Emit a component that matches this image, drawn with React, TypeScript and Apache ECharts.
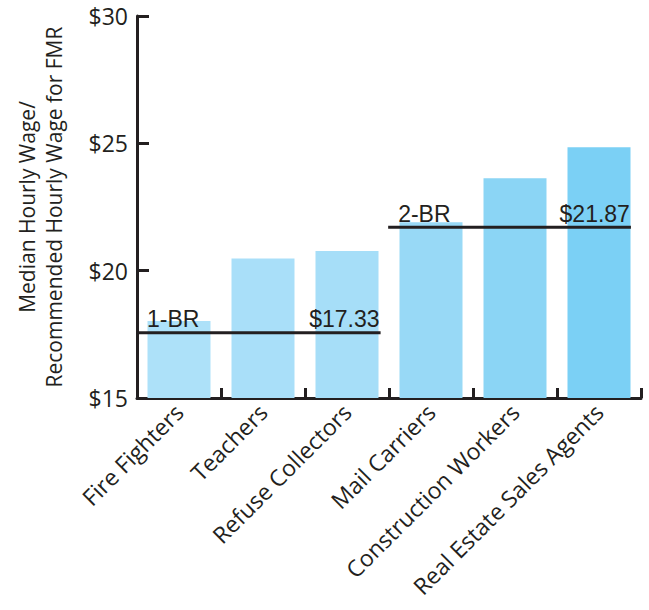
import React, { useEffect, useRef } from "react";
import * as echarts from "echarts";

const categories = [
  "Fire Fighters",
  "Teachers",
  "Refuse Collectors",
  "Mail Carriers",
  "Construction Workers",
  "Real Estate Sales Agents",
];
const wages = [18.02, 20.48, 20.77, 21.9, 23.63, 24.85];
const barColors = ["#ADE1F9", "#A9DFF9", "#A6DEF8", "#98D9F6", "#8BD5F5", "#7BD0F5"];

const yMin = 15;
const yMax = 30;
const yStep = 5;

// Reference lines: [start, end] positions along the category span, value, labels
const oneBrSpan = [0, 2.9];
const oneBrValue = 17.56;
const oneBrLabels = ["1-BR", "$17.33"];
const twoBrSpan = [2.99, 5.88];
const twoBrValue = 21.7;
const twoBrLabels = ["2-BR", "$21.87"];

const axisColor = "#231F20";
const textColor = "#231F20";

function refLine(span: number[], value: number, labels: string[]) {
  const lbl = {
    show: true,
    position: "top",
    fontFamily: "Liberation Sans, Arial, sans-serif",
    fontSize: 23,
    color: textColor,
  };
  return {
    type: "line",
    xAxisIndex: 1,
    symbol: "circle",
    symbolSize: 0,
    z: 5,
    lineStyle: { color: axisColor, width: 3 },
    data: [
      {
        value: [span[0], value],
        label: { ...lbl, align: "left", offset: [10, 3], formatter: labels[0] },
      },
      {
        value: [span[1], value],
        label: { ...lbl, align: "right", offset: [-1, 3], formatter: labels[1] },
      },
    ],
  };
}

export default function App() {
  const ref = useRef<HTMLDivElement>(null);
  useEffect(() => {
    if (!ref.current) return;
    const chart = echarts.init(ref.current, null, { renderer: "svg" });
    chart.setOption({
      animation: false,
      backgroundColor: "#ffffff",
      grid: {
        left: 137,
        right: 8,
        top: 16,
        bottom: 212,
        containLabel: false,
        outerBoundsMode: "none",
      },
      xAxis: [
        {
          type: "category",
          data: categories,
          axisLine: { show: true, lineStyle: { color: axisColor, width: 3 } },
          axisTick: {
            show: true,
            inside: true,
            length: 10,
            lineStyle: { color: axisColor, width: 3 },
          },
          axisLabel: {
            rotate: 45,
            interval: 0,
            margin: 10,
            fontFamily: "Open Sans, sans-serif",
            fontSize: 23,
            color: textColor,
          },
        },
        {
          type: "value",
          min: 0,
          max: 6,
          show: false,
        },
      ],
      yAxis: {
        type: "value",
        min: yMin,
        max: yMax,
        interval: yStep,
        name: "Median Hourly Wage/\nRecommended Hourly Wage for FMR",
        nameLocation: "middle",
        nameGap: 70,
        nameRotate: 90,
        nameTextStyle: {
          fontFamily: "Open Sans, sans-serif",
          fontSize: 21,
          lineHeight: 27,
          color: textColor,
        },
        splitLine: { show: false },
        axisLine: { show: true, lineStyle: { color: axisColor, width: 3 } },
        axisTick: {
          show: true,
          inside: true,
          length: 12,
          lineStyle: { color: axisColor, width: 3 },
        },
        axisLabel: {
          margin: 9,
          formatter: (v: number) => "$" + v,
          fontFamily: "Open Sans, sans-serif",
          fontSize: 23,
          color: textColor,
        },
      },
      series: [
        {
          type: "bar",
          data: wages.map((v, i) => ({ value: v, itemStyle: { color: barColors[i] } })),
          barCategoryGap: "25%",
          z: 2,
        },
        refLine(oneBrSpan, oneBrValue, oneBrLabels),
        refLine(twoBrSpan, twoBrValue, twoBrLabels),
      ],
    });
    return () => chart.dispose();
  }, []);
  return (
    <div
      ref={ref}
      style={{ position: "absolute", left: 0, top: 0, width: 649, height: 610 }}
    />
  );
}
